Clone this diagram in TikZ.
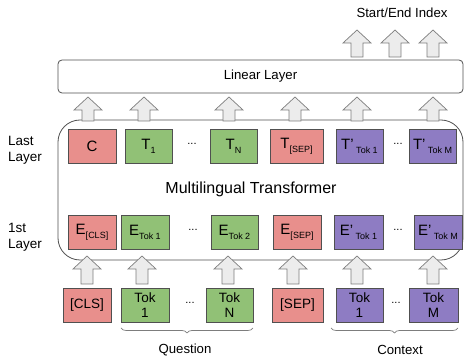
\documentclass[tikz,border=0pt]{standalone}
\usepackage{fontspec}
\setmainfont{Liberation Sans}
\usetikzlibrary{decorations.pathreplacing,calc}
\definecolor{redf}{RGB}{232,143,140}
\definecolor{greenf}{RGB}{145,193,118}
\definecolor{purpf}{RGB}{142,124,195}
\definecolor{boxl}{RGB}{80,80,80}
\definecolor{arrf}{RGB}{236,236,236}
\definecolor{arrl}{RGB}{125,125,125}
\newcommand\sbx[1]{\raisebox{-3.8pt}{\fontsize{9}{9}\selectfont #1}}
\newcommand\barrow[3]{\draw[arrstyle] ({#1-6},#2) -- ({#1-6},{#3+13}) -- ({#1-14},{#3+13}) -- (#1,#3) -- ({#1+14},{#3+13}) -- ({#1+6},{#3+13}) -- ({#1+6},#2) -- cycle;}
\begin{document}
\begin{tikzpicture}[x=1pt,y=-1pt,
  tokbox/.style={draw=boxl, line width=0.8pt, minimum width=48pt, minimum height=34pt, inner sep=0pt, font=\fontsize{15}{16}\selectfont},
  inbox/.style={tokbox, font=\fontsize{13.5}{15}\selectfont, align=center},
  redb/.style={fill=redf}, greenb/.style={fill=greenf}, purpb/.style={fill=purpf},
  arrstyle/.style={draw=arrl, fill=arrf, line width=0.7pt, line join=miter},
  dotn/.style={font=\fontsize{11}{12}\selectfont, inner sep=0pt},
  lbl/.style={font=\fontsize{13.5}{16}\selectfont, align=left, anchor=west, inner sep=0pt},
  txt/.style={font=\fontsize{13.2}{15}\selectfont, inner sep=0pt},
  brc/.style={draw=arrl, line width=0.7pt, decorate, decoration={brace, amplitude=5pt, mirror}}
]
\useasboundingbox (0,0) rectangle (464,358);
% Linear layer
\node[draw=boxl, line width=0.8pt, rounded corners=4pt, minimum width=405pt, minimum height=33pt, inner sep=0pt, txt] (lin) at (260.5,76.5) {Linear Layer};
\node[txt] (out) at (402,13) {Start/End Index};
% Transformer box
\node[draw=boxl, line width=0.8pt, rounded corners=22pt, minimum width=405pt, minimum height=140pt, inner sep=0pt] (tr) at (260.5,190) {};
\node[font=\fontsize{16}{18}\selectfont, inner sep=0pt] (trl) at (251,189) {Multilingual Transformer};
% Left labels
\node[lbl] (ll) at (8,150) {Last\\Layer};
\node[lbl] (fl) at (8,237) {1st\\Layer};
% Last layer
\node[tokbox, redb] (c) at (92,146.5) {C};
\node[tokbox, greenb, minimum width=47pt] (t1) at (148.5,146.5) {T\sbx{1}};
\node[dotn] (d1) at (192,144) {...};
\node[tokbox, greenb, minimum width=47pt] (tn) at (233.5,146.5) {T\sbx{N}};
\node[tokbox, redb, minimum width=53pt] (tsep) at (296.5,146.5) {T\sbx{[SEP]}};
\node[tokbox, purpb, minimum width=47pt] (tp1) at (359.5,146.5) {T'\,\sbx{Tok 1}};
\node[dotn] (d2) at (398,144) {...};
\node[tokbox, purpb, minimum width=47pt] (tpm) at (432.5,146.5) {T'\,\sbx{Tok M}};
% First layer
\node[tokbox, redb] (ecls) at (92,232) {E\sbx{[CLS]}};
\node[tokbox, greenb] (e1) at (145,232) {E\sbx{Tok 1}};
\node[dotn] (d3) at (193,230) {...};
\node[tokbox, greenb, minimum width=47pt] (e2) at (234.5,232) {E\sbx{Tok 2}};
\node[tokbox, redb] (esep) at (297,232) {E\sbx{[SEP]}};
\node[tokbox, purpb, minimum width=49pt] (ep1) at (358.5,232) {E'\,\sbx{Tok 1}};
\node[dotn] (d4) at (398,230) {...};
\node[tokbox, purpb] (epm) at (438,232) {E'\,\sbx{Tok M}};
% Inputs
\node[inbox, redb] (icls) at (87,305) {[CLS]};
\node[inbox, greenb] (i1) at (145,305) {Tok\\1};
\node[dotn] (d5) at (190,303) {...};
\node[inbox, greenb, minimum width=47pt] (in) at (229.5,305) {Tok\\N};
\node[inbox, redb, minimum width=51pt] (isep) at (297.5,305) {[SEP]};
\node[inbox, purpb, minimum width=47pt] (ic1) at (359.5,305) {Tok\\1};
\node[dotn] (d6) at (396,303) {...};
\node[inbox, purpb, minimum width=49pt] (icm) at (433.5,305) {Tok\\M};
% Braces
\coordinate (q1) at (121,328); \coordinate (q2) at (253,328);
\draw[brc] (q1) -- (q2);
\node[txt] (ql) at (185,350) {Question};
\coordinate (k1) at (331,328); \coordinate (k2) at (458,328);
\draw[brc] (k1) -- (k2);
\node[txt] (kl) at (400,350) {Context};
% Arrows inputs -> transformer
\barrow{87}{284}{256}
\barrow{142}{284}{256}
\barrow{228}{284}{256}
\barrow{293}{284}{256}
\barrow{357}{284}{256}
\barrow{433}{284}{256}
% Arrows transformer -> linear
\barrow{88}{121}{97}
\barrow{144}{121}{97}
\barrow{229}{121}{97}
\barrow{295}{121}{97}
\barrow{357}{121}{97}
\barrow{433}{121}{97}
% Output arrows
\barrow{357}{57}{30}
\barrow{395}{57}{30}
\barrow{433}{57}{30}
\end{tikzpicture}
\end{document}
